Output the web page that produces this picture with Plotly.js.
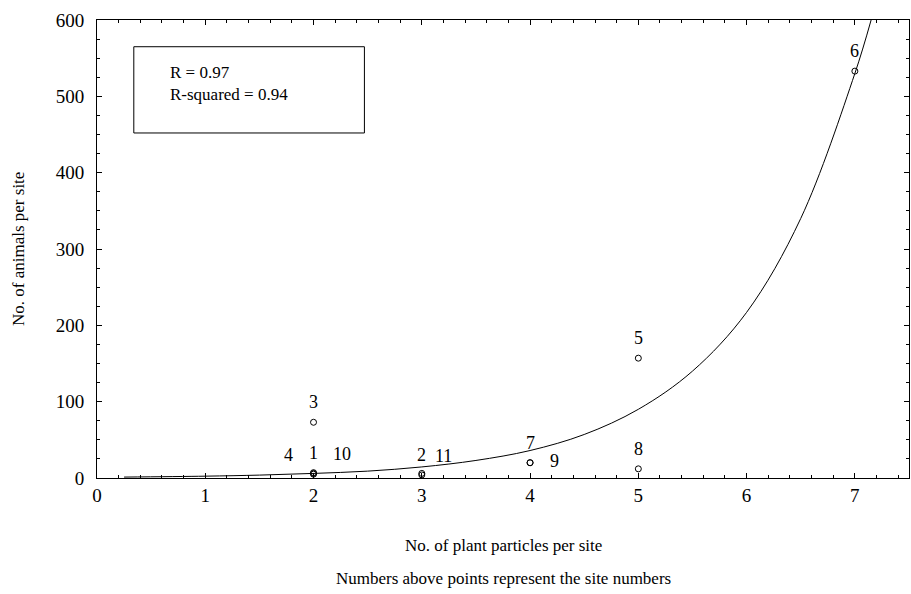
<!DOCTYPE html>
<html>
<head>
<meta charset="utf-8">
<script src="https://cdn.plot.ly/plotly-3.0.1.min.js"></script>
<style>
html,body{margin:0;padding:0;background:#fff;}
#chart{width:911px;height:594px;}
</style>
</head>
<body>
<div id="chart"></div>
<script>
// Observed sites
const siteNumbers = ['1','2','3','4','5','6','7','8','9','10','11'];
const plantParticles = [2, 3, 2, 2, 5, 7, 4, 5, 4, 2, 3];
const animalsPerSite = [7, 4, 73, 5, 157, 533, 20, 12, 20, 6, 6];

// Fitted curve
const fitX = [0.25, 1, 1.5, 2, 2.5, 3, 3.5, 4, 4.5, 5, 5.5, 6, 6.5, 7, 7.15];
const fitY = [1.2, 2.4, 3.8, 6, 9, 14.5, 23, 36, 57, 90, 140, 217, 340, 530, 600];

const statsLines = ['R = 0.97', 'R-squared = 0.94'];
const xTitle = 'No. of plant particles per site';
const xNote = 'Numbers above points represent the site numbers';
const yTitle = 'No. of animals per site';

const FONT = 'Liberation Serif';

// label pixel offsets for overlapping sites
const labelShift = {
  '4': [-25, 19], '10': [28, 19], '11': [22, 17], '9': [24, 2]
};

const annotations = siteNumbers.map((s, i) => {
  const sh = labelShift[s] || [0, 20];
  return {
    x: plantParticles[i], y: animalsPerSite[i], xref: 'x', yref: 'y',
    text: s, showarrow: false, xshift: sh[0], yshift: sh[1],
    font: {family: FONT, size: 18}
  };
});

annotations.push({
  x: 0.66, y: 517, xref: 'x', yref: 'y', xanchor: 'left', yanchor: 'middle',
  text: statsLines.join('<br>'), align: 'left', showarrow: false,
  font: {family: FONT, size: 17}
});
annotations.push({
  x: 0.5, y: 0, xref: 'paper', yref: 'paper', yanchor: 'middle', yshift: -67,
  text: xTitle, showarrow: false, font: {family: FONT, size: 17}
});
annotations.push({
  x: 0.5, y: 0, xref: 'paper', yref: 'paper', yanchor: 'middle', yshift: -100,
  text: xNote, showarrow: false, font: {family: FONT, size: 17}
});
annotations.push({
  x: 0, y: 0.5, xref: 'paper', yref: 'paper', xanchor: 'center', yanchor: 'middle', xshift: -79,
  text: yTitle, textangle: -90, showarrow: false, font: {family: FONT, size: 17}
});

const traces = [
  {
    x: fitX, y: fitY, type: 'scatter', mode: 'lines',
    line: {color: '#000', width: 1, shape: 'spline'}, hoverinfo: 'skip'
  },
  {
    x: plantParticles, y: animalsPerSite, type: 'scatter', mode: 'markers',
    marker: {symbol: 'circle-open', size: 6, color: '#000', line: {width: 1, color: '#000'}}
  }
];

const axisCommon = {
  showline: true, linecolor: '#000', linewidth: 1, mirror: 'allticks',
  ticks: 'inside', ticklen: 5, tickcolor: '#000', showgrid: false, zeroline: false,
  tickfont: {family: FONT, size: 19}
};

const layout = {
  width: 911, height: 594,
  font: {family: FONT, size: 17, color: '#000'},
  margin: {l: 97, r: 2, t: 20, b: 116},
  paper_bgcolor: '#fff', plot_bgcolor: '#fff',
  showlegend: false,
  xaxis: Object.assign({}, axisCommon, {
    range: [0, 7.5], tickmode: 'linear', tick0: 0, dtick: 1,
    minor: {dtick: 0.2, ticks: 'inside', ticklen: 3, tickcolor: '#000', showgrid: false}
  }),
  yaxis: Object.assign({}, axisCommon, {
    range: [0, 600], tickmode: 'linear', tick0: 0, dtick: 100, ticklabelstandoff: 8,
    minor: {dtick: 25, ticks: 'inside', ticklen: 3, tickcolor: '#000', showgrid: false}
  }),
  shapes: [{
    type: 'rect', xref: 'x', yref: 'y', x0: 0.34, x1: 2.47, y0: 452, y1: 565,
    line: {color: '#000', width: 1}, fillcolor: 'rgba(0,0,0,0)'
  }],
  annotations: annotations
};

Plotly.newPlot('chart', traces, layout, {displayModeBar: false});
</script>
</body>
</html>
